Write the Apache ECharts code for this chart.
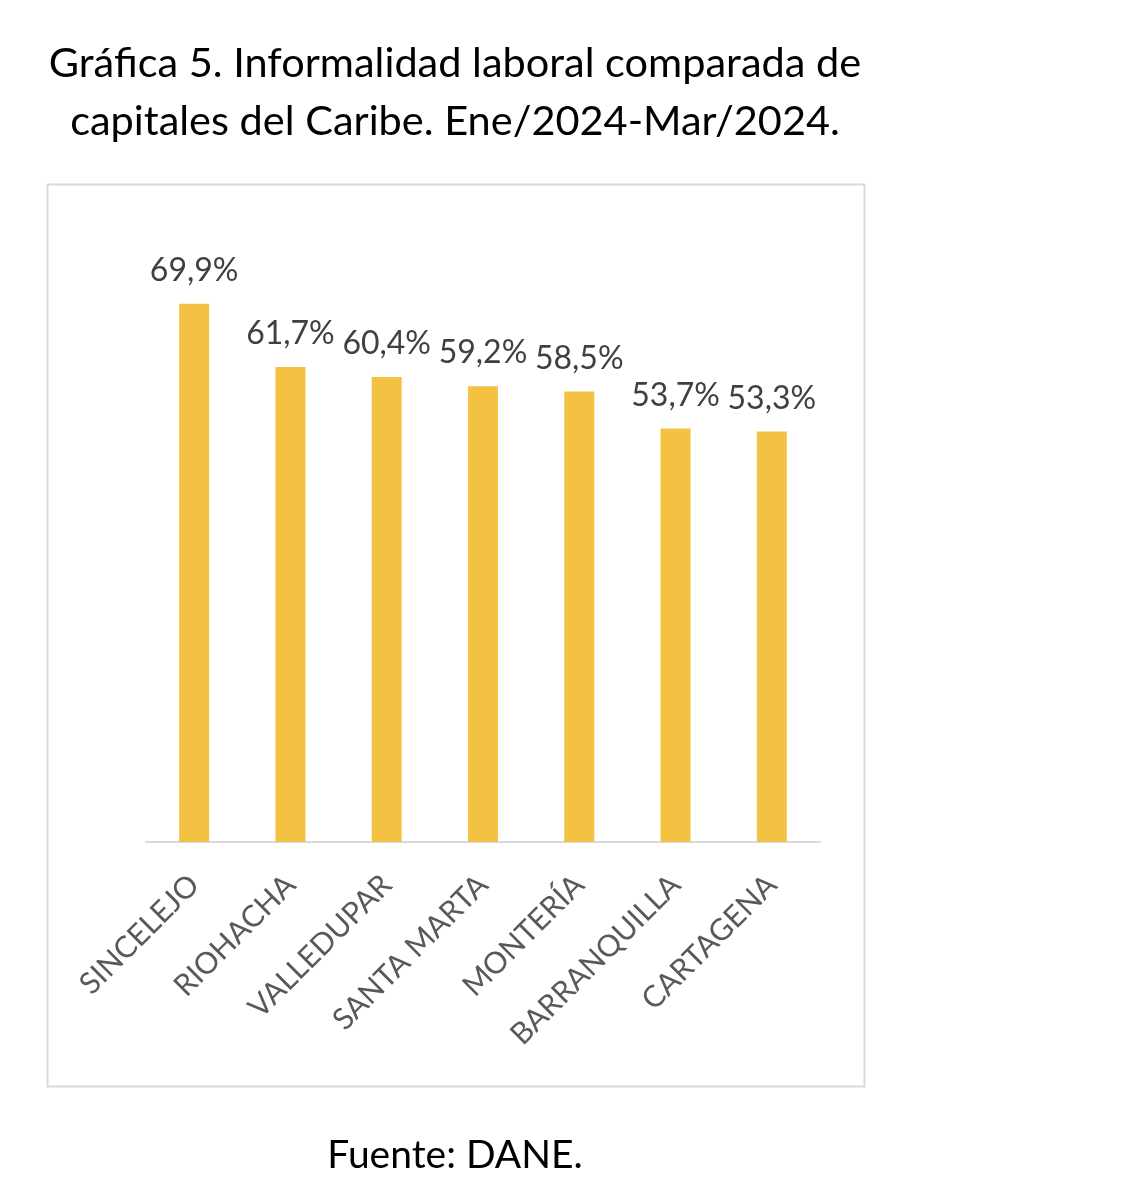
<!DOCTYPE html>
<html><head><meta charset="utf-8">
<script src="https://cdn.jsdelivr.net/npm/echarts@6/dist/echarts.min.js"></script>
<style>html,body{margin:0;padding:0;background:#fff}#c{width:1127px;height:1200px}</style>
</head><body><div id="c"></div>
<script>
const categories = ['SINCELEJO','RIOHACHA','VALLEDUPAR','SANTA MARTA','MONTERÍA','BARRANQUILLA','CARTAGENA'];
const values = [69.9, 61.7, 60.4, 59.2, 58.5, 53.7, 53.3];
const titleLines = ['Gráfica 5. Informalidad laboral comparada de', 'capitales del Caribe. Ene/2024-Mar/2024.'];
const sourceText = 'Fuente: DANE.';

const FONT = 'Lato, "Open Sans", sans-serif';
const chart = echarts.init(document.getElementById('c'));
chart.setOption({
  backgroundColor: '#fff',
  animation: false,
  graphic: [
    { type: 'rect', shape: { x: 47.5, y: 184.5, width: 817, height: 902 }, style: { fill: 'none', stroke: '#D9D9D9', lineWidth: 2 } },
    { type: 'text', x: 455, y: 64, style: { text: titleLines[0], font: '41.5px ' + FONT, fill: '#000', align: 'center', verticalAlign: 'middle' } },
    { type: 'text', x: 455, y: 122, style: { text: titleLines[1], font: '41.5px ' + FONT, fill: '#000', align: 'center', verticalAlign: 'middle' } },
    { type: 'text', x: 455, y: 1155, style: { text: sourceText, font: '39px ' + FONT, fill: '#000', align: 'center', verticalAlign: 'middle' } }
  ],
  grid: { left: 146, right: 307, top: 226, bottom: 358 },
  xAxis: {
    type: 'category', data: categories,
    axisLine: { lineStyle: { color: '#D9D9D9', width: 2 } },
    axisTick: { show: false },
    axisLabel: { rotate: 45, interval: 0, color: '#595959', fontSize: 30, fontFamily: FONT, margin: 38 }
  },
  yAxis: { type: 'value', min: 0, max: 80, show: false, splitLine: { show: false } },
  series: [{
    type: 'bar', data: values, barWidth: 30,
    itemStyle: { color: '#F4C242' },
    label: {
      show: true, position: 'top', distance: 17, color: '#404040', fontSize: 32, fontFamily: FONT,
      formatter: p => p.value.toFixed(1).replace('.', ',') + '%'
    }
  }]
});
</script></body></html>
